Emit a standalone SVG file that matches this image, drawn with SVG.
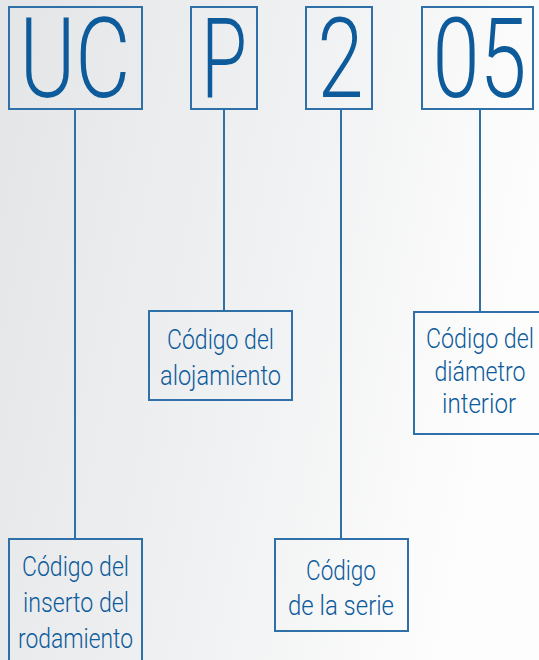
<svg xmlns="http://www.w3.org/2000/svg" width="539" height="660" viewBox="0 0 539 660">
<defs>
<linearGradient id="bg" x1="0" y1="0" x2="1" y2="0.25">
<stop offset="0" stop-color="#e3e5e7"/>
<stop offset="0.6" stop-color="#f1f2f3"/>
<stop offset="1" stop-color="#fdfdfd"/>
</linearGradient>
<style>
.box{fill:none;stroke:#2f70a8;stroke-width:2}
.ln{fill:none;stroke:#2f70a8;stroke-width:2}
.big{font-family:Roboto,"Liberation Sans",sans-serif;font-weight:300;font-size:111px;fill:#0d5b9b;text-anchor:middle}
.lbl{font-family:Roboto,"Liberation Sans",sans-serif;font-weight:300;font-size:28px;fill:#0d5b9b;text-anchor:middle}
</style>
</defs>
<rect width="539" height="660" fill="url(#bg)"/>
<g id="connectors">
<line class="ln" x1="75" y1="109" x2="75" y2="539"/>
<line class="ln" x1="224" y1="109" x2="224" y2="311"/>
<line class="ln" x1="341" y1="109" x2="341" y2="539"/>
<line class="ln" x1="480" y1="109" x2="480" y2="312"/>
</g>
<g id="uc">
<rect class="box" x="9" y="7" width="133" height="102"/>
<text class="big" x="75" y="97" textLength="111" lengthAdjust="spacingAndGlyphs">UC</text>
</g>
<g id="p">
<rect class="box" x="191" y="7" width="66" height="102"/>
<text class="big" x="224" y="97" textLength="46" lengthAdjust="spacingAndGlyphs">P</text>
</g>
<g id="two">
<rect class="box" x="306" y="7" width="66" height="102"/>
<text class="big" x="340.5" y="97" textLength="46" lengthAdjust="spacingAndGlyphs">2</text>
</g>
<g id="zerofive">
<rect class="box" x="422" y="7" width="111" height="102"/>
<text class="big" x="479.5" y="97" textLength="94" lengthAdjust="spacingAndGlyphs">05</text>
</g>
<g id="alojamiento">
<rect class="box" x="149" y="311" width="143" height="89"/>
<text class="lbl" x="220.5" y="349" textLength="107" lengthAdjust="spacingAndGlyphs">Código del</text>
<text class="lbl" x="220.5" y="385" textLength="121" lengthAdjust="spacingAndGlyphs">alojamiento</text>
</g>
<g id="diametro">
<rect class="box" x="414" y="312" width="140" height="122"/>
<text class="lbl" x="480" y="348" textLength="108" lengthAdjust="spacingAndGlyphs">Código del</text>
<text class="lbl" x="480" y="381" textLength="91" lengthAdjust="spacingAndGlyphs">diámetro</text>
<text class="lbl" x="479" y="413" textLength="74" lengthAdjust="spacingAndGlyphs">interior</text>
</g>
<g id="inserto">
<rect class="box" x="9" y="539" width="133" height="140"/>
<text class="lbl" x="75.5" y="576" textLength="107" lengthAdjust="spacingAndGlyphs">Código del</text>
<text class="lbl" x="76" y="612" textLength="106" lengthAdjust="spacingAndGlyphs">inserto del</text>
<text class="lbl" x="75.5" y="648" textLength="115" lengthAdjust="spacingAndGlyphs">rodamiento</text>
</g>
<g id="serie">
<rect class="box" x="275" y="539" width="133" height="92"/>
<text class="lbl" x="341" y="580" textLength="70" lengthAdjust="spacingAndGlyphs">Código</text>
<text class="lbl" x="341" y="615" textLength="106" lengthAdjust="spacingAndGlyphs">de la serie</text>
</g>
</svg>
